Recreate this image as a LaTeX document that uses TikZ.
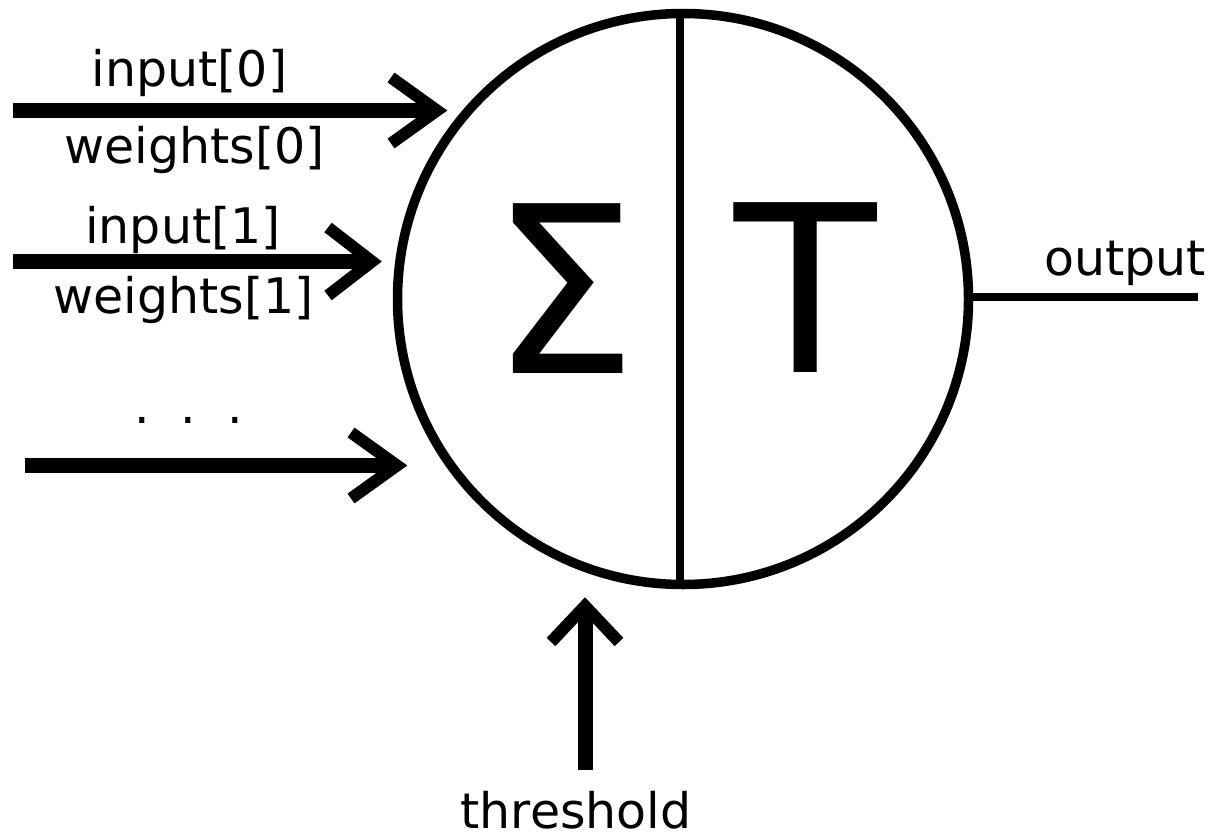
\documentclass[tikz,border=0pt]{standalone}
\usepackage{fontspec}
\setmainfont{DejaVu Sans}
\begin{document}
\begin{tikzpicture}[x=1pt,y=-1pt,
  lbl/.style={anchor=base,inner sep=0pt,font=\fontsize{49}{58}\selectfont},
  big/.style={anchor=base,inner sep=0pt,font=\fontsize{233}{260}\selectfont},
  shaft/.style={line width=15pt,line cap=butt},
  arm/.style={line width=12pt,line cap=butt,line join=miter},
  ring/.style={line width=9.5pt},
  thin/.style={line width=8pt}]
\useasboundingbox (0,0) rectangle (1220,840);
% neuron
\node[circle,draw,ring,minimum size=571pt,inner sep=0pt] (neuron) at (683,299) {};
\coordinate (ltop) at (680,13);
\coordinate (lbot) at (680,585);
\draw[thin] (ltop) -- (lbot);
\node[big] (sigma) at (564,373) {Σ};
\node[big] (tee) at (805.5,372) {T};
% inputs
\coordinate (s0) at (13,110.5);
\coordinate (t0) at (437,110.5);
\coordinate (s1) at (13,261.5);
\coordinate (t1) at (372,261.5);
\coordinate (s2) at (25,465.5);
\coordinate (t2) at (397,465.5);
\draw[shaft] (s0) -- (t0);
\draw[arm] (t0) ++(-46,-33) -- (t0) -- ++(-46,33);
\draw[shaft] (s1) -- (t1);
\draw[arm] (t1) ++(-44,-34) -- (t1) -- ++(-44,34);
\draw[shaft] (s2) -- (t2);
\draw[arm] (t2) ++(-46,-33) -- (t2) -- ++(-46,33);
\node[lbl] (in0) at (189.5,87) {input[0]};
\node[lbl] (w0) at (194.5,163) {weights[0]};
\node[lbl] (in1) at (183,243) {input[1]};
\node[lbl] (w1) at (183.5,313) {weights[1]};
\node[lbl] (dots) at (188.5,423) {.\hspace{31pt}.\hspace{31pt}.};
% threshold
\coordinate (ts) at (585,770);
\coordinate (tt) at (585,606);
\draw[shaft] (ts) -- (tt);
\draw[arm] (tt) ++(-34,36) -- (tt) -- ++(34,36);
\node[lbl] (thr) at (576,828) {threshold};
% output
\coordinate (oend) at (1198,297);
\draw[thin] (neuron.east |- oend) -- (oend);
\node[lbl] (out) at (1125,275) {output};
\end{tikzpicture}
\end{document}
